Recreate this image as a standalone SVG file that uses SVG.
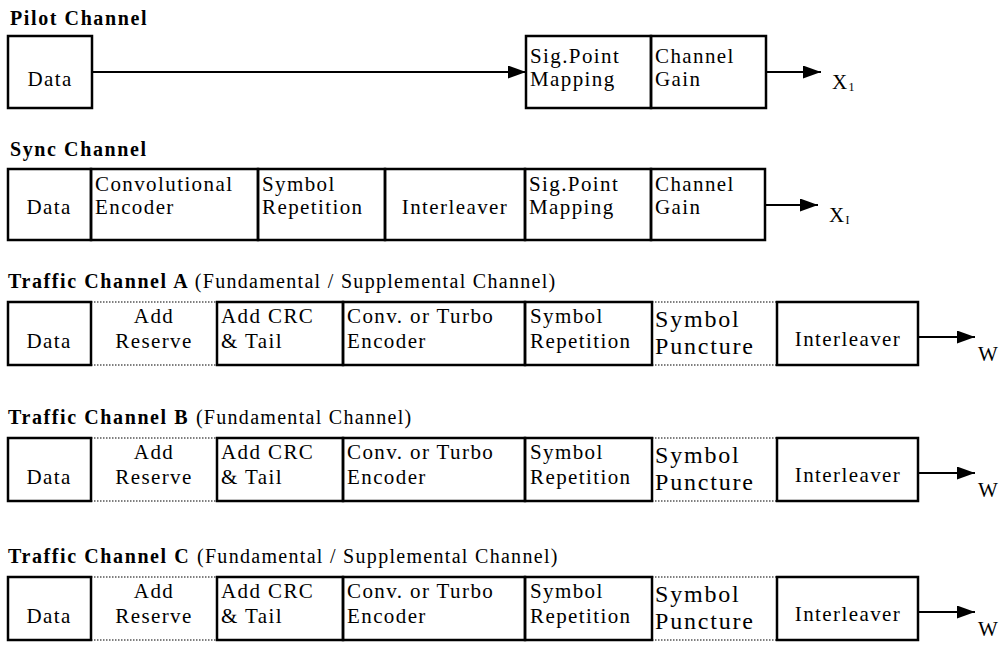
<svg xmlns="http://www.w3.org/2000/svg" width="1007" height="647" viewBox="0 0 1007 647">
<style>
.bg{fill:#fff}
.box{fill:none;stroke:#000;stroke-width:2.5}
.dot{fill:none;stroke:#000;stroke-width:1.2;stroke-dasharray:1.5 1.5}
.ln{fill:none;stroke:#000;stroke-width:2}
.t{font-family:"Liberation Serif","Times New Roman",serif;font-size:21px;letter-spacing:1.4px;fill:#000}
.big{font-size:24px;letter-spacing:1.8px}
.h{font-family:"Liberation Serif","Times New Roman",serif;font-size:20px;font-weight:bold;letter-spacing:1.6px;fill:#000}
.hn{font-weight:normal;letter-spacing:1.3px}
.m{text-anchor:middle}
.sub{font-size:12px;letter-spacing:0}
</style>
<defs>
<marker id="ah" markerUnits="userSpaceOnUse" markerWidth="19" markerHeight="13" refX="18" refY="6.5" orient="auto">
<path d="M0,0 L18,6.5 L0,13 z" fill="#000"/>
</marker>
</defs>
<rect class="bg" x="0" y="0" width="1007" height="647"/>

<!-- Pilot Channel -->
<g id="pilot">
<text class="h" x="10" y="25">Pilot Channel</text>
<g id="pilot-data"><rect class="box" x="8" y="36" width="84" height="72"/><text class="t m" x="50" y="86">Data</text></g>
<g id="pilot-sig"><rect class="box" x="526" y="36" width="125" height="72"/><text class="t" x="530" y="63">Sig.Point</text><text class="t" x="530" y="86">Mapping</text></g>
<g id="pilot-gain"><rect class="box" x="651" y="36" width="115" height="72"/><text class="t" x="655" y="63">Channel</text><text class="t" x="655" y="86">Gain</text></g>
<g id="pilot-out"><text class="t" x="832" y="89">X<tspan class="sub" dy="2">1</tspan></text></g>
</g>

<!-- Sync Channel -->
<g id="sync">
<text class="h" x="10" y="156">Sync Channel</text>
<g id="sync-data"><rect class="box" x="8" y="169" width="83" height="71"/><text class="t m" x="49" y="214">Data</text></g>
<g id="sync-conv"><rect class="box" x="91" y="169" width="167" height="71"/><text class="t" x="95" y="191">Convolutional</text><text class="t" x="95" y="214">Encoder</text></g>
<g id="sync-rep"><rect class="box" x="258" y="169" width="127" height="71"/><text class="t" x="262" y="191">Symbol</text><text class="t" x="262" y="214">Repetition</text></g>
<g id="sync-int"><rect class="box" x="385" y="169" width="140" height="71"/><text class="t m" x="455" y="214">Interleaver</text></g>
<g id="sync-sig"><rect class="box" x="525" y="169" width="126" height="71"/><text class="t" x="529" y="191">Sig.Point</text><text class="t" x="529" y="214">Mapping</text></g>
<g id="sync-gain"><rect class="box" x="651" y="169" width="114" height="71"/><text class="t" x="655" y="191">Channel</text><text class="t" x="655" y="214">Gain</text></g>
<g id="sync-out"><text class="t" x="829" y="222">X<tspan class="sub" dy="2">I</tspan></text></g>
</g>

<!-- Traffic Channel A -->
<g id="trafficA">
<text class="h" x="8" y="288">Traffic Channel A <tspan class="hn">(Fundamental / Supplemental Channel)</tspan></text>
<g id="a-data"><rect class="box" x="8" y="302" width="83" height="63"/><text class="t m" x="49" y="348">Data</text></g>
<g id="a-res"><line class="dot" x1="91" y1="302" x2="217" y2="302"/><line class="dot" x1="91" y1="365" x2="217" y2="365"/><text class="t m" x="154" y="323">Add</text><text class="t m" x="154" y="348">Reserve</text></g>
<g id="a-crc"><rect class="box" x="217" y="302" width="126" height="63"/><text class="t" x="221" y="323">Add CRC</text><text class="t" x="221" y="348">&amp; Tail</text></g>
<g id="a-enc"><rect class="box" x="343" y="302" width="182" height="63"/><text class="t" x="347" y="323">Conv. or Turbo</text><text class="t" x="347" y="348">Encoder</text></g>
<g id="a-rep"><rect class="box" x="525" y="302" width="127" height="63"/><text class="t" x="530" y="323">Symbol</text><text class="t" x="530" y="348">Repetition</text></g>
<g id="a-punc"><line class="dot" x1="652" y1="302" x2="777" y2="302"/><line class="dot" x1="652" y1="365" x2="777" y2="365"/><text class="t big" x="655" y="327">Symbol</text><text class="t big" x="655" y="354">Puncture</text></g>
<g id="a-int"><rect class="box" x="777" y="302" width="141" height="63"/><text class="t m" x="848" y="346">Interleaver</text></g>
<g id="a-out"><text class="t" x="978" y="361">W</text></g>
</g>

<!-- Traffic Channel B -->
<g id="trafficB">
<text class="h" x="8" y="424">Traffic Channel B <tspan class="hn">(Fundamental Channel)</tspan></text>
<g id="b-data"><rect class="box" x="8" y="438" width="83" height="63"/><text class="t m" x="49" y="484">Data</text></g>
<g id="b-res"><line class="dot" x1="91" y1="438" x2="217" y2="438"/><line class="dot" x1="91" y1="501" x2="217" y2="501"/><text class="t m" x="154" y="459">Add</text><text class="t m" x="154" y="484">Reserve</text></g>
<g id="b-crc"><rect class="box" x="217" y="438" width="126" height="63"/><text class="t" x="221" y="459">Add CRC</text><text class="t" x="221" y="484">&amp; Tail</text></g>
<g id="b-enc"><rect class="box" x="343" y="438" width="182" height="63"/><text class="t" x="347" y="459">Conv. or Turbo</text><text class="t" x="347" y="484">Encoder</text></g>
<g id="b-rep"><rect class="box" x="525" y="438" width="127" height="63"/><text class="t" x="530" y="459">Symbol</text><text class="t" x="530" y="484">Repetition</text></g>
<g id="b-punc"><line class="dot" x1="652" y1="438" x2="777" y2="438"/><line class="dot" x1="652" y1="501" x2="777" y2="501"/><text class="t big" x="655" y="463">Symbol</text><text class="t big" x="655" y="490">Puncture</text></g>
<g id="b-int"><rect class="box" x="777" y="438" width="141" height="63"/><text class="t m" x="848" y="482">Interleaver</text></g>
<g id="b-out"><text class="t" x="978" y="497">W</text></g>
</g>

<!-- Traffic Channel C -->
<g id="trafficC">
<text class="h" x="8" y="563">Traffic Channel C <tspan class="hn">(Fundamental / Supplemental Channel)</tspan></text>
<g id="c-data"><rect class="box" x="8" y="577" width="83" height="63"/><text class="t m" x="49" y="623">Data</text></g>
<g id="c-res"><line class="dot" x1="91" y1="577" x2="217" y2="577"/><line class="dot" x1="91" y1="640" x2="217" y2="640"/><text class="t m" x="154" y="598">Add</text><text class="t m" x="154" y="623">Reserve</text></g>
<g id="c-crc"><rect class="box" x="217" y="577" width="126" height="63"/><text class="t" x="221" y="598">Add CRC</text><text class="t" x="221" y="623">&amp; Tail</text></g>
<g id="c-enc"><rect class="box" x="343" y="577" width="182" height="63"/><text class="t" x="347" y="598">Conv. or Turbo</text><text class="t" x="347" y="623">Encoder</text></g>
<g id="c-rep"><rect class="box" x="525" y="577" width="127" height="63"/><text class="t" x="530" y="598">Symbol</text><text class="t" x="530" y="623">Repetition</text></g>
<g id="c-punc"><line class="dot" x1="652" y1="577" x2="777" y2="577"/><line class="dot" x1="652" y1="640" x2="777" y2="640"/><text class="t big" x="655" y="602">Symbol</text><text class="t big" x="655" y="629">Puncture</text></g>
<g id="c-int"><rect class="box" x="777" y="577" width="141" height="63"/><text class="t m" x="848" y="621">Interleaver</text></g>
<g id="c-out"><text class="t" x="978" y="636">W</text></g>
</g>

<!-- Connectors -->
<g id="connectors">
<line class="ln" x1="92" y1="72" x2="526" y2="72" marker-end="url(#ah)"/>
<line class="ln" x1="766" y1="72" x2="821" y2="72" marker-end="url(#ah)"/>
<line class="ln" x1="765" y1="205" x2="818" y2="205" marker-end="url(#ah)"/>
<line class="ln" x1="918" y1="337" x2="975" y2="337" marker-end="url(#ah)"/>
<line class="ln" x1="918" y1="473" x2="975" y2="473" marker-end="url(#ah)"/>
<line class="ln" x1="918" y1="612" x2="975" y2="612" marker-end="url(#ah)"/>
</g>
</svg>
